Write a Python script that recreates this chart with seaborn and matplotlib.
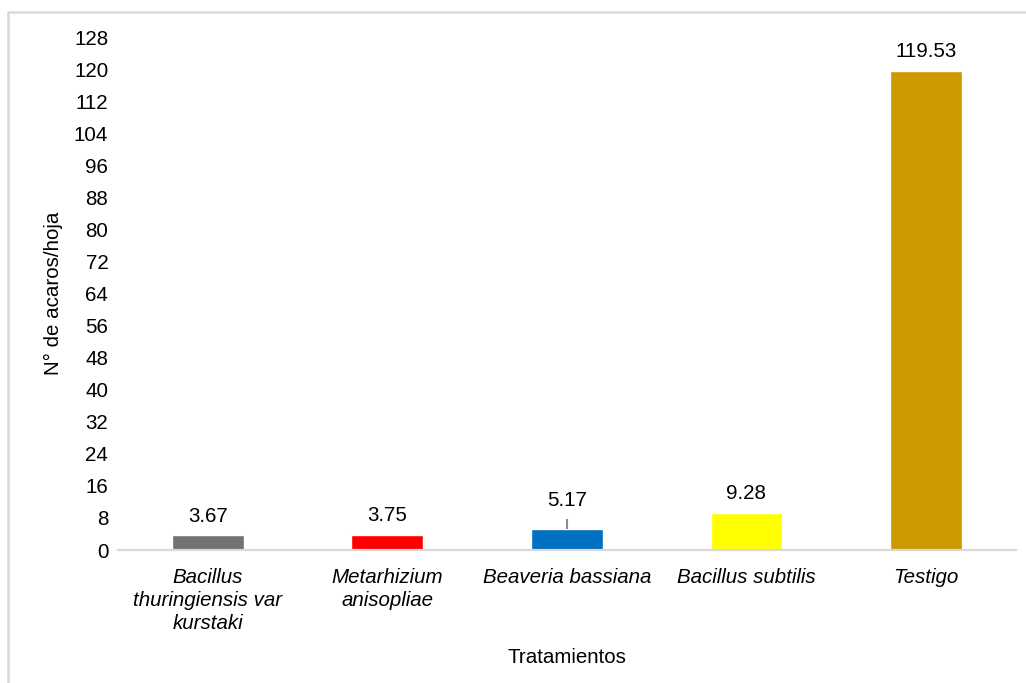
import matplotlib
matplotlib.use("Agg")
import matplotlib.pyplot as plt
from matplotlib.lines import Line2D
import seaborn as sns
import pandas as pd
import numpy as np

# Treatments and mean mite counts per leaf
tratamientos = [
    "Bacillus\nthuringiensis var\nkurstaki",
    "Metarhizium\nanisopliae",
    "Beaveria bassiana",
    "Bacillus subtilis",
    "Testigo",
]
acaros = [3.67, 3.75, 5.17, 9.28, 119.53]
error_sup = [0.0, 0.0, 2.5, 0.0, 0.0]
colores = ["#767171", "#FF0000", "#0070C0", "#FFFF00", "#CC9900"]
y_ticks = list(range(0, 129, 8))

sns.set_theme(style="white")
plt.rcParams["font.family"] = ["Liberation Sans", "DejaVu Sans"]

FS = 14.8

df = pd.DataFrame({"tratamiento": tratamientos, "acaros": acaros})

fig = plt.figure(figsize=(10.26, 6.83), dpi=100)
ax = fig.add_axes([0.115, 0.1947, 0.875, 0.7511])

sns.barplot(data=df, x="tratamiento", y="acaros", hue="tratamiento",
            palette=colores, width=0.4, legend=False, saturation=1,
            errorbar=None, ax=ax)

# Upper error bars (only where a deviation is reported)
xs = np.arange(len(tratamientos))
for x, v, e in zip(xs, acaros, error_sup):
    if e > 0:
        ax.errorbar(x, v, yerr=[[0], [e]], fmt="none", ecolor="#8c8c8c",
                    elinewidth=1.5, capsize=0, zorder=3)

# Value labels above each bar
for x, v, e in zip(xs, acaros, error_sup):
    ax.annotate(f"{v:.2f}", (x, v + e), xytext=(0, 7), textcoords="offset points",
                ha="center", va="bottom", fontsize=FS, color="#000000")

ax.set_ylim(0, 128)
ax.set_xlim(-0.5, len(tratamientos) - 0.5)
ax.set_yticks(y_ticks)
ax.tick_params(axis="y", length=0, pad=7, labelsize=FS, labelcolor="#000000")
ax.tick_params(axis="x", length=0, pad=13, labelsize=FS, labelcolor="#000000")
for lbl in ax.get_xticklabels():
    lbl.set_fontstyle("italic")
    lbl.set_linespacing(1.25)

ax.set_xlabel("Tratamientos", fontsize=FS, labelpad=11, color="#000000")
ax.set_ylabel("N° de acaros/hoja", fontsize=FS, labelpad=8, color="#000000")

for s in ["left", "right", "top"]:
    ax.spines[s].set_visible(False)
ax.spines["bottom"].set_color("#d9d9d9")
ax.spines["bottom"].set_linewidth(1.6)

# Chart-area frame (left and top edges)
W, H = 1026, 683
fig.add_artist(Line2D([8 / W, 8 / W], [0, 1 - 12 / H], transform=fig.transFigure,
                      color="#d9d9d9", linewidth=1.8))
fig.add_artist(Line2D([8 / W, 1], [1 - 12 / H, 1 - 12 / H], transform=fig.transFigure,
                      color="#d9d9d9", linewidth=1.8))

fig.savefig("out.png", dpi=100)
